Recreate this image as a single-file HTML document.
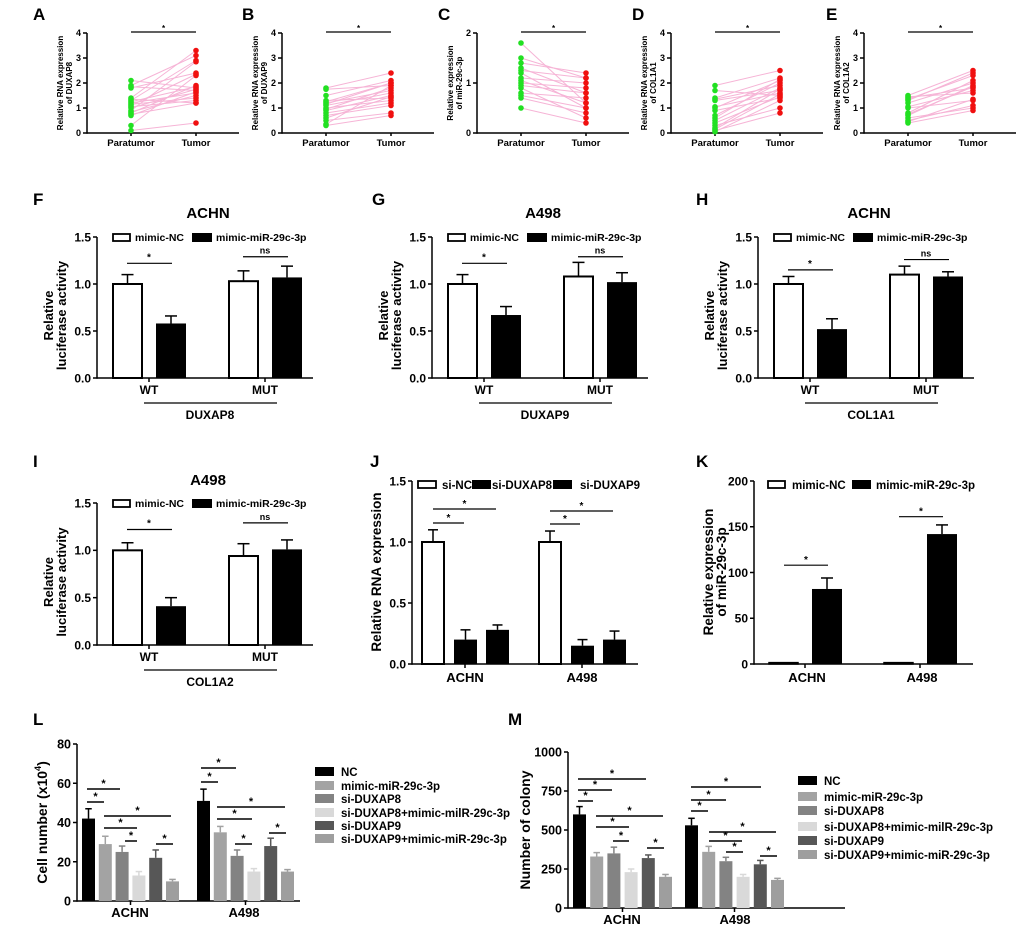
<!DOCTYPE html>
<html><head><meta charset="utf-8"><style>
html,body{margin:0;padding:0;background:#fff;}
svg{display:block;font-family:"Liberation Sans",Arial,sans-serif;font-weight:bold;}
</style></head><body>
<svg id="fig" width="1020" height="929" viewBox="0 0 1020 929" xmlns="http://www.w3.org/2000/svg"></svg>
<script>
// ---------- Data: scatter panels A-E (paired samples) ----------
const aPara  = [2.1,1.9,1.85,1.8,1.4,1.35,1.3,1.25,1.2,1.1,1.05,1.0,0.9,0.85,0.8,0.75,0.7,0.3,0.1,1.15];
const aTumor = [1.8,3.1,1.7,2.4,3.3,1.2,2.9,1.85,1.6,2.35,1.3,1.75,2.85,1.5,1.9,1.2,1.65,2.3,0.4,1.4];
const bPara  = [1.8,1.75,1.5,1.3,1.25,1.2,1.1,1.0,0.95,0.9,0.8,0.7,0.5,0.35,0.3,1.15,0.6];
const bTumor = [2.4,1.9,2.1,1.4,2.0,1.7,1.6,1.3,1.8,1.5,1.2,1.1,0.8,1.9,0.7,2.0,1.45];
const cPara  = [1.8,1.5,1.4,1.3,1.2,1.1,1.0,0.9,0.8,0.7,0.5,1.25,1.05,0.95,0.75];
const cTumor = [0.6,1.1,1.2,0.8,0.5,1.0,0.9,0.3,0.7,0.4,0.2,1.1,0.6,0.8,0.5];
const dPara  = [1.9,1.7,1.4,1.3,1.0,0.9,0.7,0.5,0.3,0.1,1.35,1.05,0.6,0.4,0.2,0.15,0.05];
const dTumor = [2.5,1.5,2.2,1.7,2.1,1.4,2.0,1.8,1.0,0.8,1.9,1.6,2.15,1.45,1.75,1.55,1.3];
const ePara  = [1.5,1.4,1.3,1.0,0.8,0.7,0.5,0.4,1.45,1.35,1.05,0.75,0.6,0.45,1.2];
const eTumor = [2.5,1.8,2.4,1.3,2.1,1.9,1.1,0.9,1.6,2.3,1.7,1.85,1.0,1.35,2.0];

// ---------- Data: luciferase panels F-I (groups WT, MUT) ----------
const lucGroups = ["WT","MUT"];
const fNC=[1.00,1.03], fNCerr=[0.10,0.11], fMim=[0.58,1.07], fMimErr=[0.08,0.12], fSig=[1.22,1.29];
const gNC=[1.00,1.08], gNCerr=[0.10,0.15], gMim=[0.67,1.02], gMimErr=[0.09,0.10], gSig=[1.22,1.29];
const hNC=[1.00,1.10], hNCerr=[0.08,0.09], hMim=[0.52,1.08], hMimErr=[0.11,0.05], hSig=[1.15,1.26];
const iNC=[1.00,0.94], iNCerr=[0.08,0.13], iMim=[0.41,1.01], iMimErr=[0.09,0.10], iSig=[1.22,1.29];
const lucTicks=[0,0.5,1.0,1.5], lucTickLabels=["0.0","0.5","1.0","1.5"];

// ---------- Data: J ----------
const jCats=["ACHN","A498"];
const jNC=[1.00,1.00], jNCerr=[0.10,0.09];
const jD8=[0.20,0.15], jD8err=[0.08,0.05];
const jD9=[0.28,0.20], jD9err=[0.04,0.07];
// ---------- Data: K ----------
const kCats=["ACHN","A498"];
const kNC=[1.5,1.5], kMim=[82,142], kMimErr=[12,10], kSig=[108,161];
const kTicks=[0,50,100,150,200];
// ---------- Data: L, M ----------
const groupNames=["NC","mimic-miR-29c-3p","si-DUXAP8","si-DUXAP8+mimic-milR-29c-3p","si-DUXAP9","si-DUXAP9+mimic-miR-29c-3p"];
const lAchn=[42,29,25,13,22,10], lAchnErr=[5,4,3,2,4,1];
const lA498=[51,35,23,15,28,15], lA498Err=[6,3,3,1.5,4,1];
const lTicks=[0,20,40,60,80];
const mAchn=[600,330,350,230,320,200], mAchnErr=[50,25,40,20,20,15];
const mA498=[530,360,300,200,280,180], mA498Err=[45,35,25,15,25,10];
const mTicks=[0,250,500,750,1000];

const svg=document.getElementById('fig');
const NS='http://www.w3.org/2000/svg';
function mk(tag,attrs,name,parent){
  const el=document.createElementNS(NS,tag);
  for(const k in attrs) el.setAttribute(k,attrs[k]);
  
  
  (parent||svg).appendChild(el);
  return el;
}
function txt(x,y,s,size,name,anchor,extra){
  const a=Object.assign({x:x,y:y,'font-size':size,'text-anchor':anchor||'start',fill:'#000'},extra||{});
  const t=mk('text',a,name);
  t.textContent=s;
  return t;
}
function line(x1,y1,x2,y2,name,w,col){
  return mk('line',{x1:x1,y1:y1,x2:x2,y2:y2,stroke:col||'#000','stroke-width':w||1.5},name);
}
function rotText(x,y,s,size,name){
  return txt(x,y,s,size,name,'middle',{transform:'rotate(-90 '+x+' '+y+')'});
}
function yAxis(ax,y0,ytop,max,ticks,labels,size,name){
  const sc=v=>y0-v/max*(y0-ytop);
  line(ax,y0+0.75,ax,ytop,name+'-y-axis',1.5);
  ticks.forEach((t,i)=>{
    line(ax-4,sc(t),ax,sc(t),name+'-y-tick',1.5);
    txt(ax-6,sc(t)+size*0.36,labels[i],size,name+'-y-tick-label','end');
  });
  return sc;
}
function errBar(cx,ytopBar,yErr,cap,name,col){
  line(cx,ytopBar,cx,yErr,name+'-error',1.5,col);
  line(cx-cap,yErr,cx+cap,yErr,name+'-error-cap',1.5,col);
}

// ---------- Scatter panels ----------
function scatter(cfg){
  const {ax,letter,lx,para,tumor,max,title1,title2,key}=cfg;
  const y0=133,ytop=33,xend=ax+152,px=ax+44,tx=ax+109;
  txt(lx,20,letter,17,'panel-label-'+key);
  const ticks=[],labels=[];
  for(let i=0;i<=max;i++){ticks.push(i);labels.push(String(i));}
  const sc=yAxis(ax,y0,ytop,max,ticks,labels,9,'panel-'+key);
  line(ax,y0,xend,y0,'panel-'+key+'-x-axis',1.5);
  line(px,y0,px,y0+3,'panel-'+key+'-x-tick',1.5);
  line(tx,y0,tx,y0+3,'panel-'+key+'-x-tick',1.5);
  txt(px,146,'Paratumor',9.5,'panel-'+key+'-x-label-paratumor','middle');
  txt(tx,146,'Tumor',9.5,'panel-'+key+'-x-label-tumor','middle');
  rotText(ax-24,83,title1,8,'panel-'+key+'-y-title');
  rotText(ax-15,83,title2,8,'panel-'+key+'-y-title-2');
  for(let i=0;i<para.length;i++){
    line(px,sc(para[i]),tx,sc(tumor[i]),'pair-line-'+key,1,'#f6b4d6');
  }
  for(let i=0;i<para.length;i++){
    mk('circle',{cx:px,cy:sc(para[i]),r:2.8,fill:'#22e022'},'paratumor-point-'+key);
    mk('circle',{cx:tx,cy:sc(tumor[i]),r:2.8,fill:'#f01010'},'tumor-point-'+key);
  }
  line(px,32,tx,32,'panel-'+key+'-sig-line',1.2);
  txt((px+tx)/2,31,'*',8,'panel-'+key+'-sig-star','middle');
}
scatter({key:'a',ax:87,letter:'A',lx:33,para:aPara,tumor:aTumor,max:4,title1:'Relative RNA expression',title2:'of DUXAP8'});
scatter({key:'b',ax:282,letter:'B',lx:242,para:bPara,tumor:bTumor,max:4,title1:'Relative RNA expression',title2:'of DUXAP9'});
scatter({key:'c',ax:477,letter:'C',lx:438,para:cPara,tumor:cTumor,max:2,title1:'Relative expression',title2:'of miR-29c-3p'});
scatter({key:'d',ax:671,letter:'D',lx:632,para:dPara,tumor:dTumor,max:4,title1:'Relative RNA expression',title2:'of COL1A1'});
scatter({key:'e',ax:864,letter:'E',lx:826,para:ePara,tumor:eTumor,max:4,title1:'Relative RNA expression',title2:'of COL1A2'});

// ---------- Luciferase panels ----------
function luc(cfg){
  const {key,ax,y0,ytop,letter,lx,ly,title,ty,gene,nc,ncErr,mim,mimErr,sig}=cfg;
  const xend=ax+216;
  txt(lx,ly,letter,17,'panel-label-'+key);
  txt(ax+111,ty,title,15,'panel-'+key+'-title','middle');
  const sc=yAxis(ax,y0,ytop,1.5,lucTicks,lucTickLabels,12,'panel-'+key);
  line(ax,y0,xend,y0,'panel-'+key+'-x-axis',1.5);
  const centers=[ax+52,ax+168];
  lucGroups.forEach((g,i)=>{
    const c=centers[i];
    mk('rect',{x:c-36,y:sc(nc[i]),width:29,height:y0-sc(nc[i]),fill:'#fff',stroke:'#000','stroke-width':2},'bar-'+key+'-mimic-nc-'+g.toLowerCase());
    errBar(c-21.5,sc(nc[i]),sc(nc[i]+ncErr[i]),6,'bar-'+key+'-mimic-nc-'+g.toLowerCase(),'#000');
    mk('rect',{x:c+7,y:sc(mim[i]),width:30,height:y0-sc(mim[i]),fill:'#000'},'bar-'+key+'-mimic-mir-'+g.toLowerCase());
    errBar(c+22,sc(mim[i]),sc(mim[i]+mimErr[i]),6,'bar-'+key+'-mimic-mir-'+g.toLowerCase(),'#000');
    line(c,y0,c,y0+4,'panel-'+key+'-x-tick',1.5);
    txt(c,y0+16,g,12,'panel-'+key+'-x-label-'+g.toLowerCase(),'middle');
    line(c-22,sc(sig[i]),c+23,sc(sig[i]),'panel-'+key+'-sig-line',1.2);
    txt(c,sc(sig[i])-3,i===0?'*':'ns',i===0?10:9,'panel-'+key+'-sig-label','middle');
  });
  line(centers[0]-5,y0+25,centers[1]+12,y0+25,'panel-'+key+'-gene-underline',1.2);
  txt((centers[0]+centers[1])/2+3,y0+41,gene,12,'panel-'+key+'-gene-label','middle');
  const midY=(y0+ytop)/2+8;
  rotText(ax-44,midY,'Relative',13,'panel-'+key+'-y-title');
  rotText(ax-31,midY,'luciferase activity',13,'panel-'+key+'-y-title-2');
  mk('rect',{x:ax+16,y:ytop-3,width:17,height:7,fill:'#fff',stroke:'#000','stroke-width':1.8},'legend-swatch-mimic-nc-'+key);
  txt(ax+38,ytop+4,'mimic-NC',10.5,'legend-label-mimic-nc-'+key);
  mk('rect',{x:ax+95,y:ytop-4,width:20,height:9,fill:'#000'},'legend-swatch-mimic-mir-'+key);
  txt(ax+119,ytop+4,'mimic-miR-29c-3p',10.5,'legend-label-mimic-mir-'+key);
}
luc({key:'f',ax:97,y0:378,ytop:237,letter:'F',lx:33,ly:205,title:'ACHN',ty:218,gene:'DUXAP8',nc:fNC,ncErr:fNCerr,mim:fMim,mimErr:fMimErr,sig:fSig});
luc({key:'g',ax:432,y0:378,ytop:237,letter:'G',lx:372,ly:205,title:'A498',ty:218,gene:'DUXAP9',nc:gNC,ncErr:gNCerr,mim:gMim,mimErr:gMimErr,sig:gSig});
luc({key:'h',ax:758,y0:378,ytop:237,letter:'H',lx:696,ly:205,title:'ACHN',ty:218,gene:'COL1A1',nc:hNC,ncErr:hNCerr,mim:hMim,mimErr:hMimErr,sig:hSig});
luc({key:'i',ax:97,y0:645,ytop:503,letter:'I',lx:33,ly:467,title:'A498',ty:485,gene:'COL1A2',nc:iNC,ncErr:iNCerr,mim:iMim,mimErr:iMimErr,sig:iSig});

// ---------- Panel J ----------
(function(){
  const ax=412,y0=664,ytop=481,xend=638;
  txt(370,467,'J',17,'panel-label-j');
  const sc=yAxis(ax,y0,ytop,1.5,lucTicks,lucTickLabels,12,'panel-j');
  line(ax,y0,xend,y0,'panel-j-x-axis',1.5);
  const starts=[422,539];
  const sigs=[[[433,464,523],[433,496,509]],[[550,580,524],[550,613,511]]];
  jCats.forEach((cat,i)=>{
    const s=starts[i];
    mk('rect',{x:s,y:sc(jNC[i]),width:22,height:y0-sc(jNC[i]),fill:'#fff',stroke:'#000','stroke-width':2},'bar-j-si-nc-'+cat.toLowerCase());
    errBar(s+11,sc(jNC[i]),sc(jNC[i]+jNCerr[i]),5,'bar-j-si-nc','#000');
    mk('rect',{x:s+32,y:sc(jD8[i]),width:23,height:y0-sc(jD8[i]),fill:'#000'},'bar-j-si-duxap8-'+cat.toLowerCase());
    errBar(s+43.5,sc(jD8[i]),sc(jD8[i]+jD8err[i]),5,'bar-j-si-duxap8','#000');
    mk('rect',{x:s+64,y:sc(jD9[i]),width:23,height:y0-sc(jD9[i]),fill:'#000'},'bar-j-si-duxap9-'+cat.toLowerCase());
    errBar(s+75.5,sc(jD9[i]),sc(jD9[i]+jD9err[i]),5,'bar-j-si-duxap9','#000');
    line(s+43,y0,s+43,y0+4,'panel-j-x-tick',1.5);
    txt(s+43,y0+18,cat,13,'panel-j-x-label-'+cat.toLowerCase(),'middle');
    sigs[i].forEach(sg=>{
      line(sg[0],sg[2],sg[1],sg[2],'panel-j-sig-line',1.2);
      txt((sg[0]+sg[1])/2,sg[2]-2,'*',10,'panel-j-sig-star','middle');
    });
  });
  rotText(381,572,'Relative RNA expression',13.5,'panel-j-y-title');
  mk('rect',{x:418,y:481,width:18,height:7,fill:'#fff',stroke:'#000','stroke-width':1.8},'legend-swatch-si-nc');
  txt(442,489,'si-NC',11.5,'legend-label-si-nc');
  mk('rect',{x:472,y:480,width:19,height:9,fill:'#000'},'legend-swatch-si-duxap8');
  txt(492,489,'si-DUXAP8',11.5,'legend-label-si-duxap8');
  mk('rect',{x:553,y:480,width:19,height:9,fill:'#000'},'legend-swatch-si-duxap9');
  txt(580,489,'si-DUXAP9',11.5,'legend-label-si-duxap9');
})();

// ---------- Panel K ----------
(function(){
  const dx=6;
  const ax=748+dx,y0=664,ytop=481,xend=967+dx;
  txt(696,467,'K',17,'panel-label-k');
  const sc=yAxis(ax,y0,ytop,200,kTicks,kTicks.map(String),12,'panel-k');
  line(ax,y0,xend,y0,'panel-k-x-axis',1.5);
  const starts=[763+dx,878+dx];
  kCats.forEach((cat,i)=>{
    const s=starts[i];
    mk('rect',{x:s,y:sc(kNC[i]),width:29,height:y0-sc(kNC[i]),fill:'#fff',stroke:'#000','stroke-width':1.5},'bar-k-mimic-nc-'+cat.toLowerCase());
    mk('rect',{x:s+43,y:sc(kMim[i]),width:30,height:y0-sc(kMim[i]),fill:'#000'},'bar-k-mimic-mir-'+cat.toLowerCase());
    errBar(s+58,sc(kMim[i]),sc(kMim[i]+kMimErr[i]),6,'bar-k-mimic-mir','#000');
    line(s+36,y0,s+36,y0+4,'panel-k-x-tick',1.5);
    txt(s+38,y0+18,cat,13,'panel-k-x-label-'+cat.toLowerCase(),'middle');
    line(s+15,sc(kSig[i]),s+59,sc(kSig[i]),'panel-k-sig-line',1.2);
    txt(s+37,sc(kSig[i])-2,'*',10,'panel-k-sig-star','middle');
  });
  rotText(707+dx,572,'Relative expression',13.5,'panel-k-y-title');
  rotText(720+dx,572,'of miR-29c-3p',13.5,'panel-k-y-title-2');
  mk('rect',{x:762+dx,y:481,width:17,height:7,fill:'#fff',stroke:'#000','stroke-width':1.8},'legend-swatch-k-mimic-nc');
  txt(786+dx,489,'mimic-NC',11.5,'legend-label-k-mimic-nc');
  mk('rect',{x:846+dx,y:480,width:19,height:9,fill:'#000'},'legend-swatch-k-mimic-mir');
  txt(870+dx,489,'mimic-miR-29c-3p',11.5,'legend-label-k-mimic-mir');
})();

// ---------- Panels L, M ----------
const grpColors=['#000000','#a3a3a3','#838383','#d9d9d9','#575757','#9e9e9e'];
function multi(cfg){
  const {key,ax,y0,ytop,xend,max,ticks,achn,achnErr,a498,a498Err,starts,step,bw,letter,lx,ytitle,ytx,sigs,legX,legY,labelX}=cfg;
  txt(lx,725,letter,17,'panel-label-'+key);
  const sc=yAxis(ax,y0,ytop,max,ticks,ticks.map(String),12.5,'panel-'+key);
  line(ax,y0,xend,y0,'panel-'+key+'-x-axis',1.5);
  [[achn,achnErr,'achn'],[a498,a498Err,'a498']].forEach((set,gi)=>{
    set[0].forEach((v,i)=>{
      const x=starts[gi]+i*step;
      mk('rect',{x:x,y:sc(v),width:bw,height:y0-sc(v),fill:grpColors[i]},'bar-'+key+'-'+set[2]+'-'+i);
      errBar(x+bw/2,sc(v),sc(v+set[1][i]),bw/4,'bar-'+key+'-'+set[2]+'-'+i,grpColors[i]);
    });
    const c=starts[gi]+step*2.5+bw/2;
    line(c,y0,c,y0+4,'panel-'+key+'-x-tick',1.5);
    txt(labelX[gi],y0+16,gi===0?'ACHN':'A498',13,'panel-'+key+'-x-label-'+set[2],'middle');
  });
  sigs.forEach(sg=>{
    line(sg[0],sg[2],sg[1],sg[2],'panel-'+key+'-sig-line',1.5);
    txt((sg[0]+sg[1])/2,sg[2]-2,'*',11,'panel-'+key+'-sig-star','middle');
  });
  const yt=txt(ytx,(y0+ytop)/2,'',14,'panel-'+key+'-y-title','middle',{transform:'rotate(-90 '+ytx+' '+((y0+ytop)/2)+')'});
  yt.textContent=ytitle;
  if(key==='l'){
    const sup=document.createElementNS(NS,'tspan');
    
    
    sup.setAttribute('font-size','9');
    sup.setAttribute('dy','-6');
    sup.textContent='4';
    yt.appendChild(sup);
    const close=document.createElementNS(NS,'tspan');
    
    
    close.setAttribute('dy','6');
    close.textContent=')';
    yt.appendChild(close);
  }
  groupNames.forEach((n,i)=>{
    mk('rect',{x:legX,y:legY[i]-5,width:19,height:9,fill:grpColors[i]},'legend-swatch-'+key+'-'+i);
    txt(legX+26,legY[i]+4,n,11.5,'legend-label-'+key+'-'+i);
  });
}
multi({key:'l',ax:77,y0:901,ytop:744,xend:300,max:80,ticks:lTicks,achn:lAchn,achnErr:lAchnErr,a498:lA498,a498Err:lA498Err,
  starts:[82,197],step:16.8,bw:13,letter:'L',lx:33,ytitle:'Cell number (x10',ytx:47,labelX:[130,244],
  sigs:[[87,120,789],[87,104,802],[104,171,816],[104,137,828],[125,137,841],[156,173,844],
        [201,236,768],[201,218,782],[217,285,807],[217,252,819],[235,252,844],[269,286,833]],
  legX:315,legY:[772,786,799,813,826,839]});
multi({key:'m',ax:568,y0:908,ytop:752,xend:845,max:1000,ticks:mTicks,achn:mAchn,achnErr:mAchnErr,a498:mA498,a498Err:mA498Err,
  starts:[573,685],step:17.2,bw:13,letter:'M',lx:508,ytitle:'Number of colony',ytx:530,labelX:[622,735],
  sigs:[[578,646,779],[578,612,790],[578,593,801],[596,663,816],[596,629,827],[613,629,841],[647,664,848],
        [691,761,787],[691,726,800],[691,708,811],[709,776,832],[709,742,841],[726,743,852],[760,777,856]],
  legX:798,legY:[781,797,811,827,841,855]});
</script>
</body></html>
